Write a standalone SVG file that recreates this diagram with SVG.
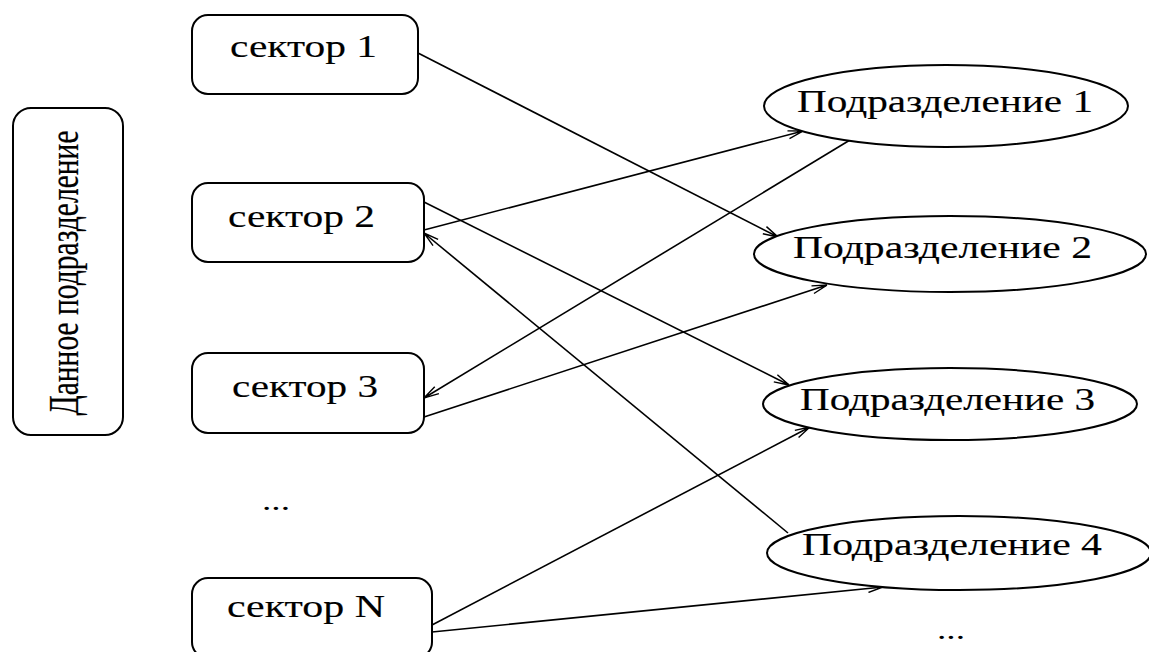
<svg xmlns="http://www.w3.org/2000/svg" width="1149" height="652" viewBox="0 0 1149 652">
<style>
.box{fill:#fff;stroke:#000;stroke-width:2}
.ell{fill:#fff;stroke:#000;stroke-width:2}
.t{font-family:"Liberation Serif","Times New Roman",serif;font-size:32px;fill:#000;stroke:#000;stroke-width:0.15}
.d{font-family:"Liberation Serif","Times New Roman",serif;font-size:28px;fill:#000}
.c{stroke:#000;stroke-width:1.6;fill:none}
</style>
<defs>
<marker id="arr" viewBox="0 0 16 10" refX="16" refY="5" markerWidth="16" markerHeight="10" markerUnits="userSpaceOnUse" orient="auto">
<path d="M1,1 L16,5 L1,9" fill="none" stroke="#000" stroke-width="1.4"/>
<path d="M10,3.4 L16,5 L10,6.6 Z" fill="#000"/>
</marker>
</defs>
<rect width="1149" height="652" fill="#fff"/>
<g id="connectors">
<line class="c" x1="418" y1="53" x2="778" y2="237" marker-end="url(#arr)"/>
<line class="c" x1="424" y1="230" x2="803" y2="131" marker-end="url(#arr)"/>
<line class="c" x1="424" y1="202" x2="789" y2="385" marker-end="url(#arr)"/>
<line class="c" x1="850" y1="140" x2="424" y2="398" marker-end="url(#arr)"/>
<line class="c" x1="424" y1="417" x2="827" y2="285" marker-end="url(#arr)"/>
<line class="c" x1="788" y1="533" x2="424" y2="233" marker-end="url(#arr)"/>
<line class="c" x1="432" y1="625" x2="810" y2="427" marker-end="url(#arr)"/>
<line class="c" x1="432" y1="632" x2="883" y2="587" marker-end="url(#arr)"/>
</g>
<g id="dannoe">
<rect class="box" x="13" y="108" width="110" height="327" rx="18"/>
<text class="t" style="font-size:30px" transform="translate(78,273) scale(1.4,1) rotate(-90)" text-anchor="middle" textLength="285" lengthAdjust="spacingAndGlyphs">Данное подразделение</text>
</g>
<g id="sector1">
<rect class="box" x="192" y="15" width="226" height="79" rx="16"/>
<text class="t" x="230" y="57" textLength="147" lengthAdjust="spacingAndGlyphs">сектор 1</text>
</g>
<g id="sector2">
<rect class="box" x="192" y="183" width="232" height="79" rx="16"/>
<text class="t" x="228" y="227" textLength="147" lengthAdjust="spacingAndGlyphs">сектор 2</text>
</g>
<g id="sector3">
<rect class="box" x="192" y="353" width="232" height="80" rx="16"/>
<text class="t" x="232" y="397" textLength="146" lengthAdjust="spacingAndGlyphs">сектор 3</text>
</g>
<g id="dots1">
<text class="d" x="262" y="510" textLength="28" lengthAdjust="spacingAndGlyphs">...</text>
</g>
<g id="sectorN">
<rect class="box" x="192" y="578" width="240" height="80" rx="16"/>
<text class="t" x="227" y="617" textLength="158" lengthAdjust="spacingAndGlyphs">сектор N</text>
</g>
<g id="pod1">
<ellipse class="ell" cx="946" cy="106" rx="182" ry="41"/>
<text class="t" x="797" y="112" textLength="296" lengthAdjust="spacingAndGlyphs">Подразделение 1</text>
</g>
<g id="pod2">
<ellipse class="ell" cx="950" cy="254" rx="196" ry="38"/>
<text class="t" x="793" y="258" textLength="299" lengthAdjust="spacingAndGlyphs">Подразделение 2</text>
</g>
<g id="pod3">
<ellipse class="ell" cx="950" cy="404" rx="187" ry="36"/>
<text class="t" x="800" y="410" textLength="295" lengthAdjust="spacingAndGlyphs">Подразделение 3</text>
</g>
<g id="pod4">
<ellipse class="ell" cx="959" cy="553" rx="192" ry="37"/>
<text class="t" x="802" y="555" textLength="300" lengthAdjust="spacingAndGlyphs">Подразделение 4</text>
</g>
<g id="dots2">
<text class="d" x="937" y="639" textLength="28" lengthAdjust="spacingAndGlyphs">...</text>
</g>
</svg>
